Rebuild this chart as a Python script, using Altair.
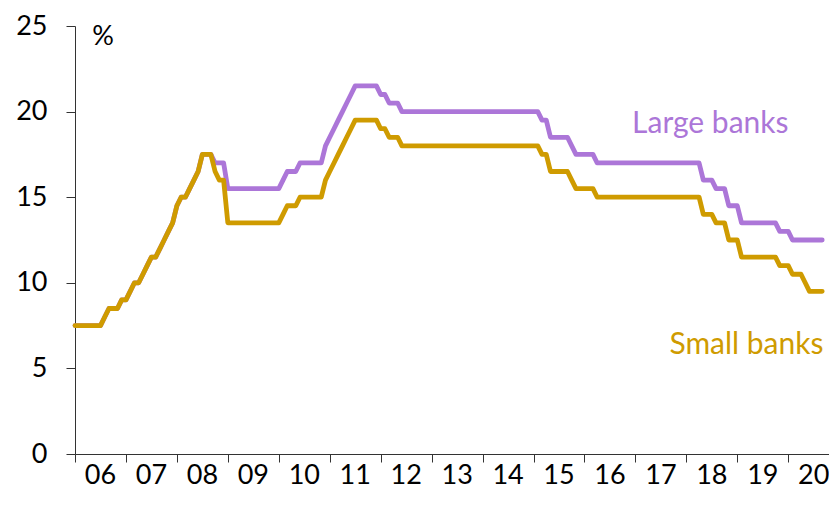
import altair as alt
import pandas as pd

# Monthly reserve requirement ratios (%), Jan 2006 .. Sep 2020 (value at start of month)
START_YEAR = 2006
large_banks = (
    [7.5, 7.5, 7.5, 7.5, 7.5, 7.5, 7.5, 8.0, 8.5, 8.5, 8.5, 9.0] +            # 2006
    [9.0, 9.5, 10.0, 10.0, 10.5, 11.0, 11.5, 11.5, 12.0, 12.5, 13.0, 13.5] +  # 2007
    [14.5, 15.0, 15.0, 15.5, 16.0, 16.5, 17.5, 17.5, 17.5, 17.0, 17.0, 17.0] +  # 2008
    [15.5] * 12 +                                                              # 2009
    [15.5, 16.0, 16.5, 16.5, 16.5, 17.0, 17.0, 17.0, 17.0, 17.0, 17.0, 18.0] +  # 2010
    [18.5, 19.0, 19.5, 20.0, 20.5, 21.0, 21.5, 21.5, 21.5, 21.5, 21.5, 21.5] +  # 2011
    [21.0, 21.0, 20.5, 20.5, 20.5, 20.0, 20.0, 20.0, 20.0, 20.0, 20.0, 20.0] +  # 2012
    [20.0] * 12 +                                                              # 2013
    [20.0] * 12 +                                                              # 2014
    [20.0, 20.0, 19.5, 19.5, 18.5, 18.5, 18.5, 18.5, 18.5, 18.0, 17.5, 17.5] +  # 2015
    [17.5, 17.5, 17.5, 17.0, 17.0, 17.0, 17.0, 17.0, 17.0, 17.0, 17.0, 17.0] +  # 2016
    [17.0] * 12 +                                                              # 2017
    [17.0, 17.0, 17.0, 17.0, 16.0, 16.0, 16.0, 15.5, 15.5, 15.5, 14.5, 14.5] +  # 2018
    [14.5, 13.5, 13.5, 13.5, 13.5, 13.5, 13.5, 13.5, 13.5, 13.5, 13.0, 13.0] +  # 2019
    [13.0, 12.5, 12.5, 12.5, 12.5, 12.5, 12.5, 12.5, 12.5]                      # 2020
)
small_banks = (
    [7.5, 7.5, 7.5, 7.5, 7.5, 7.5, 7.5, 8.0, 8.5, 8.5, 8.5, 9.0] +            # 2006
    [9.0, 9.5, 10.0, 10.0, 10.5, 11.0, 11.5, 11.5, 12.0, 12.5, 13.0, 13.5] +  # 2007
    [14.5, 15.0, 15.0, 15.5, 16.0, 16.5, 17.5, 17.5, 17.5, 16.5, 16.0, 16.0] +  # 2008
    [13.5] * 12 +                                                              # 2009
    [13.5, 14.0, 14.5, 14.5, 14.5, 15.0, 15.0, 15.0, 15.0, 15.0, 15.0, 16.0] +  # 2010
    [16.5, 17.0, 17.5, 18.0, 18.5, 19.0, 19.5, 19.5, 19.5, 19.5, 19.5, 19.5] +  # 2011
    [19.0, 19.0, 18.5, 18.5, 18.5, 18.0, 18.0, 18.0, 18.0, 18.0, 18.0, 18.0] +  # 2012
    [18.0] * 12 +                                                              # 2013
    [18.0] * 12 +                                                              # 2014
    [18.0, 18.0, 17.5, 17.5, 16.5, 16.5, 16.5, 16.5, 16.5, 16.0, 15.5, 15.5] +  # 2015
    [15.5, 15.5, 15.5, 15.0, 15.0, 15.0, 15.0, 15.0, 15.0, 15.0, 15.0, 15.0] +  # 2016
    [15.0] * 12 +                                                              # 2017
    [15.0, 15.0, 15.0, 15.0, 14.0, 14.0, 14.0, 13.5, 13.5, 13.5, 12.5, 12.5] +  # 2018
    [12.5, 11.5, 11.5, 11.5, 11.5, 11.5, 11.5, 11.5, 11.5, 11.5, 11.0, 11.0] +  # 2019
    [11.0, 10.5, 10.5, 10.5, 10.0, 9.5, 9.5, 9.5, 9.5]                          # 2020
)
year_ticks = list(range(2006, 2021))
y_ticks = [0, 5, 10, 15, 20, 25]

PURPLE = "#AC76D8"
GOLD = "#CF9B00"
FONT = "Lato"

months = [START_YEAR + i / 12 for i in range(len(large_banks))]
df_large = pd.DataFrame({"t": months, "v": large_banks})
df_small = pd.DataFrame({"t": months, "v": small_banks})

xscale = alt.Scale(domain=[2006, 2020.8], nice=False, zero=False)
yscale = alt.Scale(domain=[0, 25], nice=False)

xaxis = alt.Axis(values=year_ticks, labelExpr="format(datum.value - 2000, '02d')",
                 labelOffset=25, labelAlign="center", labelBaseline="top",
                 labelPadding=0, tickSize=8, grid=False, title=None,
                 labelFontSize=27, labelFont=FONT, labelColor="#000",
                 domainColor="#333", tickColor="#333", labelFlush=False)
yaxis = alt.Axis(values=y_ticks, tickSize=9, labelPadding=19, grid=False, title=None,
                 labelFontSize=27, labelFont=FONT, labelColor="#000",
                 domainColor="#333", tickColor="#333", labelFlush=False)

base_large = alt.Chart(df_large).mark_line(
    color=PURPLE, strokeWidth=4.8, strokeCap="round", strokeJoin="round"
).encode(x=alt.X("t:Q", scale=xscale, axis=xaxis),
         y=alt.Y("v:Q", scale=yscale, axis=yaxis))

base_small = alt.Chart(df_small).mark_line(
    color=GOLD, strokeWidth=4.8, strokeCap="round", strokeJoin="round"
).encode(x=alt.X("t:Q", scale=xscale), y=alt.Y("v:Q", scale=yscale))

labels = pd.DataFrame({
    "t": [2018.47, 2019.18],
    "v": [18.74, 5.83],
    "text": ["Large banks", "Small banks"],
    "c": [PURPLE, GOLD],
})
label_layer = alt.Chart(labels).mark_text(
    font=FONT, fontSize=30, align="center", baseline="alphabetic"
).encode(x=alt.X("t:Q", scale=xscale), y=alt.Y("v:Q", scale=yscale),
         text="text:N", color=alt.Color("c:N", scale=None))

pct = alt.Chart(pd.DataFrame({"t": [2006.55], "v": [23.9], "text": ["%"]})).mark_text(
    font=FONT, fontSize=27, align="center", baseline="alphabetic", color="#000"
).encode(x=alt.X("t:Q", scale=xscale), y=alt.Y("v:Q", scale=yscale), text="text:N")

chart = alt.layer(base_large, base_small, label_layer, pct).properties(
    width=754, height=428,
    autosize=alt.AutoSizeParams(type="none"),
    padding={"left": 67, "top": 18, "right": 0, "bottom": 38},
).configure_view(stroke=None)

chart.save("out.html", embed_options={"renderer": "svg", "actions": False})
